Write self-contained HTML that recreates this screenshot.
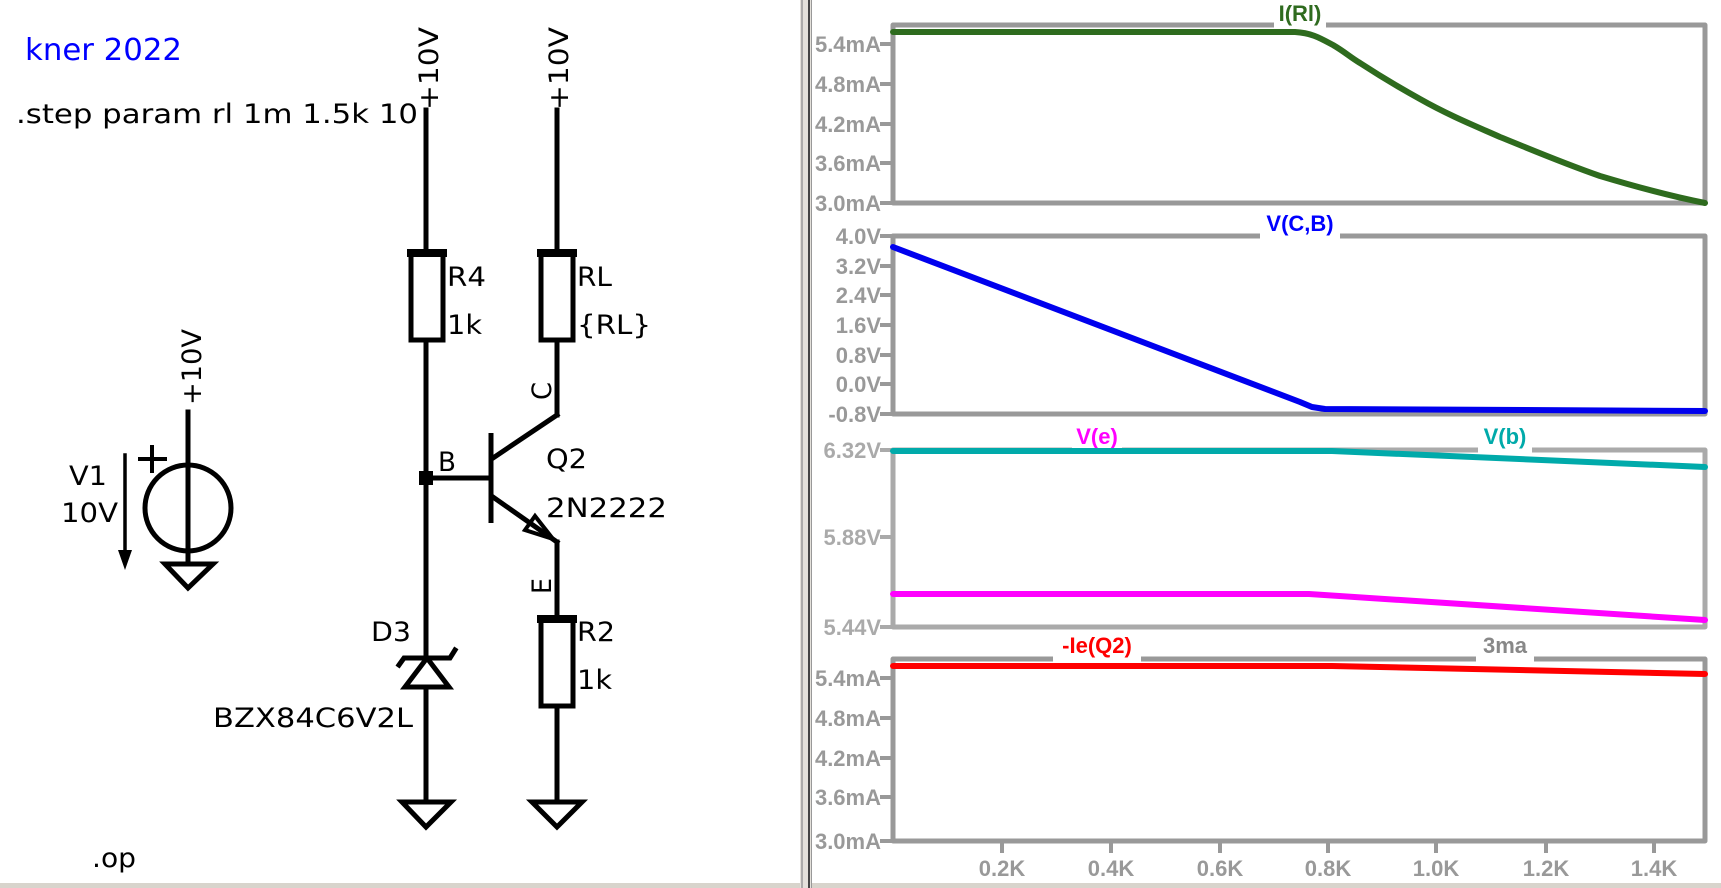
<!DOCTYPE html>
<html><head><meta charset="utf-8"><style>
html,body{margin:0;padding:0;background:#fff;}
svg{display:block;}
.s{font-family:"DejaVu Sans","Liberation Sans",sans-serif;font-size:27px;fill:#000;}
.ax{font-family:"Liberation Sans",sans-serif;font-size:22px;font-weight:bold;fill:#999;}
.lb{font-family:"Liberation Sans",sans-serif;font-size:22px;font-weight:bold;}
</style></head><body>
<svg width="1721" height="888" viewBox="0 0 1721 888" xmlns="http://www.w3.org/2000/svg">
<rect width="1721" height="888" fill="#fff"/>
<rect x="0" y="883" width="1721" height="5" fill="#d8d4cc"/>
<rect x="800" y="0" width="12" height="888" fill="#e4e1db"/>
<line x1="802" y1="0" x2="802" y2="888" stroke="#999" stroke-width="1.5"/>
<line x1="809" y1="0" x2="809" y2="888" stroke="#444" stroke-width="2"/>
<line x1="811.5" y1="0" x2="811.5" y2="888" stroke="#999" stroke-width="1"/>

<g class="s">
<text x="25" y="60" font-size="30" style="fill:#0000ff" textLength="157" lengthAdjust="spacingAndGlyphs">kner 2022</text>
<text x="16" y="123" textLength="402" lengthAdjust="spacingAndGlyphs">.step param rl 1m 1.5k 10</text>
<text transform="translate(438,110) rotate(-90)" textLength="83" lengthAdjust="spacingAndGlyphs">+10V</text>
<text transform="translate(568,110) rotate(-90)" textLength="83" lengthAdjust="spacingAndGlyphs">+10V</text>
<text transform="translate(201,405) rotate(-90)" textLength="76" lengthAdjust="spacingAndGlyphs">+10V</text>
<text x="447" y="286" textLength="39" lengthAdjust="spacingAndGlyphs">R4</text>
<text x="447" y="334" textLength="35" lengthAdjust="spacingAndGlyphs">1k</text>
<text x="577" y="286" textLength="35" lengthAdjust="spacingAndGlyphs">RL</text>
<text x="577" y="334" textLength="74" lengthAdjust="spacingAndGlyphs">{RL}</text>
<text transform="translate(551,400) rotate(-90)" textLength="18" lengthAdjust="spacingAndGlyphs">C</text>
<text transform="translate(551,594) rotate(-90)" textLength="16" lengthAdjust="spacingAndGlyphs">E</text>
<text x="438" y="471" textLength="18" lengthAdjust="spacingAndGlyphs">B</text>
<text x="546" y="468" textLength="41" lengthAdjust="spacingAndGlyphs">Q2</text>
<text x="546" y="517" textLength="121" lengthAdjust="spacingAndGlyphs">2N2222</text>
<text x="371" y="641" textLength="40" lengthAdjust="spacingAndGlyphs">D3</text>
<text x="213" y="727" textLength="200" lengthAdjust="spacingAndGlyphs">BZX84C6V2L</text>
<text x="577" y="641" textLength="38" lengthAdjust="spacingAndGlyphs">R2</text>
<text x="577" y="689" textLength="35" lengthAdjust="spacingAndGlyphs">1k</text>
<text x="69" y="485" textLength="38" lengthAdjust="spacingAndGlyphs">V1</text>
<text x="61" y="522" textLength="57" lengthAdjust="spacingAndGlyphs">10V</text>
<text x="92" y="867" textLength="44" lengthAdjust="spacingAndGlyphs">.op</text>
</g>
<g stroke="#000" stroke-width="5" fill="none" stroke-linecap="square">
<line x1="426" y1="110" x2="426" y2="252"/>
<rect x="411" y="252" width="32" height="88" fill="#fff"/>
<line x1="411" y1="253" x2="443" y2="253" stroke-width="8"/>
<line x1="426" y1="340" x2="426" y2="658"/>
<line x1="426" y1="687" x2="426" y2="802"/>
<line x1="557" y1="110" x2="557" y2="252"/>
<rect x="541" y="252" width="32" height="88" fill="#fff"/>
<line x1="541" y1="253" x2="573" y2="253" stroke-width="8"/>
<line x1="557" y1="340" x2="557" y2="415"/>
<line x1="557" y1="415" x2="493" y2="458"/>
<line x1="491" y1="433" x2="491" y2="523" stroke-linecap="butt"/>
<line x1="426" y1="478" x2="491" y2="478"/>
<line x1="493" y1="497" x2="557" y2="542"/>
<polygon points="553,539 525,530 535,516" stroke-width="4" stroke-linejoin="miter"/>
<line x1="557" y1="542" x2="557" y2="618"/>
<rect x="541" y="618" width="32" height="88" fill="#fff"/>
<line x1="541" y1="619" x2="573" y2="619" stroke-width="8"/>
<line x1="557" y1="706" x2="557" y2="802"/>
<polygon points="532,802 582,802 557,827" stroke-linejoin="miter"/>
<polygon points="402,802 451,802 426,827" stroke-linejoin="miter"/>
<polygon points="165,564 213,564 188,588" stroke-linejoin="miter"/>
<polygon points="405,687 449,687 427,658" fill="#fff" stroke-linejoin="miter"/>
<polyline points="399,665 404,658 450,658 455,650"/>
<line x1="188" y1="412" x2="188" y2="564"/>
<ellipse cx="188" cy="508" rx="43" ry="43"/>
<line x1="140" y1="459" x2="165" y2="459" stroke-width="4"/>
<line x1="152" y1="447" x2="152" y2="471" stroke-width="4"/>
<line x1="125" y1="455" x2="125" y2="552" stroke-width="3.5"/>
</g>
<polygon points="118,550 132,550 125,570" fill="#000"/>
<rect x="419" y="471" width="14" height="14" fill="#000"/>

<g fill="none" stroke-width="5" stroke-linejoin="round">
<rect x="893" y="25" width="812" height="178" stroke="#999"/>
<rect x="893" y="236" width="812" height="178" stroke="#999"/>
<rect x="893" y="450" width="812" height="177" stroke="#aaa"/>
<rect x="893" y="659" width="812" height="182" stroke="#999"/>
</g>
<g stroke="#999" stroke-width="4">
<line x1="880" y1="44" x2="893" y2="44"/><line x1="880" y1="84" x2="893" y2="84"/><line x1="880" y1="124" x2="893" y2="124"/><line x1="880" y1="163" x2="893" y2="163"/><line x1="880" y1="203" x2="893" y2="203"/>
<line x1="880" y1="236" x2="893" y2="236"/><line x1="880" y1="266" x2="893" y2="266"/><line x1="880" y1="295" x2="893" y2="295"/><line x1="880" y1="325" x2="893" y2="325"/><line x1="880" y1="355" x2="893" y2="355"/><line x1="880" y1="384" x2="893" y2="384"/><line x1="880" y1="414" x2="893" y2="414"/>
<line x1="880" y1="450" x2="893" y2="450" stroke="#aaa"/><line x1="880" y1="537" x2="893" y2="537" stroke="#aaa"/><line x1="880" y1="627" x2="893" y2="627" stroke="#aaa"/>
<line x1="880" y1="678" x2="893" y2="678"/><line x1="880" y1="718" x2="893" y2="718"/><line x1="880" y1="758" x2="893" y2="758"/><line x1="880" y1="797" x2="893" y2="797"/><line x1="880" y1="841" x2="893" y2="841"/>
<line x1="1002" y1="841" x2="1002" y2="853"/><line x1="1111" y1="841" x2="1111" y2="853"/><line x1="1220" y1="841" x2="1220" y2="853"/><line x1="1328" y1="841" x2="1328" y2="853"/><line x1="1436" y1="841" x2="1436" y2="853"/><line x1="1546" y1="841" x2="1546" y2="853"/><line x1="1654" y1="841" x2="1654" y2="853"/>
</g>
<g class="ax" text-anchor="end">
<text x="881" y="52">5.4mA</text><text x="881" y="92">4.8mA</text><text x="881" y="132">4.2mA</text><text x="881" y="171">3.6mA</text><text x="881" y="211">3.0mA</text>
<text x="881" y="244">4.0V</text><text x="881" y="274">3.2V</text><text x="881" y="303">2.4V</text><text x="881" y="333">1.6V</text><text x="881" y="363">0.8V</text><text x="881" y="392">0.0V</text><text x="881" y="422">-0.8V</text>
<g style="fill:#aaa"><text x="881" y="458">6.32V</text><text x="881" y="545">5.88V</text><text x="881" y="635">5.44V</text></g>
<text x="881" y="686">5.4mA</text><text x="881" y="726">4.8mA</text><text x="881" y="766">4.2mA</text><text x="881" y="805">3.6mA</text><text x="881" y="849">3.0mA</text>
</g>
<g class="ax" text-anchor="middle">
<text x="1002" y="876">0.2K</text><text x="1111" y="876">0.4K</text><text x="1220" y="876">0.6K</text><text x="1328" y="876">0.8K</text><text x="1436" y="876">1.0K</text><text x="1546" y="876">1.2K</text><text x="1654" y="876">1.4K</text>
</g>
<g fill="#fff">
<rect x="1274" y="14" width="52" height="16"/>
<rect x="1260" y="225" width="80" height="16"/>
<rect x="1072" y="440" width="50" height="14"/>
<rect x="1478" y="440" width="54" height="14"/>
<rect x="1053" y="648" width="88" height="16"/>
<rect x="1476" y="648" width="58" height="16"/>
</g>
<g class="lb" text-anchor="middle">
<text x="1300" y="21" style="fill:#2f6b1f">I(Rl)</text>
<text x="1300" y="231" style="fill:#0000ff">V(C,B)</text>
<text x="1097" y="444" style="fill:#ff00ff">V(e)</text>
<text x="1505" y="444" style="fill:#00aaaa">V(b)</text>
<text x="1097" y="653" style="fill:#ff0000">-Ie(Q2)</text>
<text x="1505" y="653" style="fill:#888">3ma</text>
</g>
<g fill="none" stroke-width="6" stroke-linecap="round" stroke-linejoin="round">
<path stroke="#2e6b1e" d="M893,32 L1295,32 C1312,33 1320,38 1333,45 C1345,52 1350,57 1360,63 C1380,76 1400,88 1420,99 C1450,116 1480,128 1500,137 C1530,149 1560,162 1600,176 C1640,188 1670,196 1705,203"/>
<polyline stroke="#0000ee" points="893,247 1300,402 1312,407 1325,409 1705,411"/>
<polyline stroke="#00aaaa" points="893,451 1332,451 1705,467"/>
<polyline stroke="#ff00ff" points="893,594 1309,594 1705,620"/>
<polyline stroke="#ff0000" points="893,666 1332,666 1705,674"/>
</g>
</svg>
</body></html>
